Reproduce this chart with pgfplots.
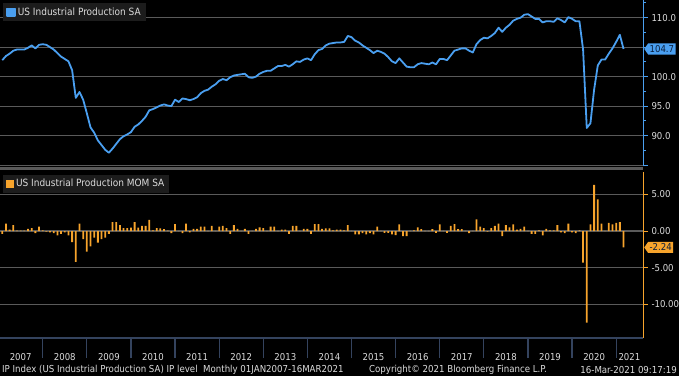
\documentclass[border=0pt]{standalone}
\usepackage{fontspec}
\setmainfont{DejaVu Sans Condensed}
\usepackage{pgfplots}
\usepackage{pgfplotstable}
\pgfplotsset{compat=1.18}
\usetikzlibrary{shapes.symbols}
\definecolor{ipblue}{HTML}{4A9FF0}
\definecolor{iporange}{HTML}{F7A42C}
\definecolor{gridgray}{HTML}{5A5A5A}
\definecolor{txt}{HTML}{DCDCDC}
\definecolor{legbg}{HTML}{1C1C1C}
\definecolor{tickblue}{HTML}{34435E}
\definecolor{darktxt}{HTML}{0A1E3C}

% t = months since 1 Jan 2007, plotted at month end
\pgfplotstableread{
t v
1 102.8
2 103.5
3 103.9
4 104.4
5 104.6
6 104.6
7 104.6
8 104.9
9 105.3
10 104.8
11 105.4
12 105.5
13 105.4
14 105.0
15 104.6
16 104.0
17 103.4
18 103.0
19 102.6
20 101.1
21 96.4
22 97.4
23 96.1
24 93.8
25 91.4
26 90.5
27 89.2
28 88.4
29 87.6
30 87.1
31 87.8
32 88.6
33 89.4
34 89.9
35 90.2
36 90.6
37 91.5
38 91.9
39 92.5
40 93.2
41 94.3
42 94.5
43 94.8
44 95.1
45 95.3
46 95.1
47 95.0
48 96.1
49 95.7
50 96.3
51 96.2
52 96.0
53 96.2
54 96.5
55 97.2
56 97.6
57 97.8
58 98.3
59 98.7
60 99.3
61 99.6
62 99.4
63 99.9
64 100.2
65 100.3
66 100.4
67 100.5
68 99.9
69 99.8
70 100.0
71 100.5
72 100.8
73 101.0
74 101.0
75 101.4
76 101.8
77 101.8
78 102.0
79 101.7
80 102.1
81 102.6
82 102.5
83 102.9
84 103.1
85 102.8
86 103.8
87 104.5
88 104.7
89 105.3
90 105.6
91 105.7
92 105.8
93 105.8
94 105.9
95 106.9
96 106.7
97 106.1
98 105.8
99 105.3
100 104.9
101 104.5
102 104.0
103 104.4
104 104.2
105 103.9
106 103.3
107 102.6
108 102.3
109 103.1
110 102.4
111 101.7
112 101.6
113 101.6
114 102.1
115 102.3
116 102.2
117 102.1
118 102.4
119 102.1
120 103.0
121 103.0
122 102.8
123 103.6
124 104.4
125 104.6
126 104.8
127 104.8
128 104.4
129 104.1
130 105.5
131 106.2
132 106.6
133 106.5
134 106.9
135 107.4
136 108.3
137 107.6
138 108.3
139 108.8
140 109.5
141 109.8
142 110.0
143 110.5
144 110.6
145 110.2
146 109.8
147 109.8
148 109.2
149 109.4
150 109.4
151 109.3
152 109.9
153 109.6
154 109.2
155 110.1
156 109.8
157 109.4
158 109.4
159 104.6
160 91.3
161 92.1
162 97.8
163 101.9
164 102.9
165 102.9
166 103.9
167 104.8
168 105.9
169 107.1
170 104.7
}\ipindex

\pgfplotstableread{
t v
1 -0.4
2 1.0
3 0.2
4 0.8
5 0.05
6 0.05
7 0.05
8 0.3
9 0.4
10 -0.3
11 0.6
12 0.1
13 -0.1
14 -0.2
15 -0.3
16 -0.6
17 -0.4
18 -0.2
19 -0.6
20 -1.5
21 -4.2
22 1.0
23 -1.1
24 -2.8
25 -2.1
26 -0.9
27 -1.6
28 -1.1
29 -0.9
30 -0.4
31 1.2
32 1.2
33 0.8
34 0.4
35 0.4
36 0.45
37 1.2
38 0.45
39 0.7
40 0.7
41 1.5
42 0.1
43 0.4
44 0.35
45 0.25
46 0.05
47 -0.3
48 0.95
49 0.02
50 -0.3
51 1.0
52 -0.2
53 0.3
54 0.3
55 0.6
56 0.6
57 0.03
58 0.7
59 0.03
60 0.6
61 0.7
62 0.4
63 -0.4
64 0.8
65 0.3
66 0.03
67 0.3
68 -0.4
69 0.03
70 0.3
71 0.5
72 0.4
73 0.03
74 0.6
75 0.6
76 0.03
77 0.2
78 0.2
79 -0.4
80 0.7
81 0.7
82 0.03
83 0.3
84 0.3
85 -0.4
86 0.95
87 0.95
88 0.3
89 0.35
90 0.35
91 0.1
92 0.2
93 0.2
94 0.1
95 0.8
96 0.02
97 -0.45
98 -0.45
99 -0.3
100 -0.45
101 -0.3
102 -0.45
103 0.6
104 0.02
105 -0.25
106 -0.25
107 -0.45
108 -0.55
109 0.9
110 -0.7
111 -0.7
112 0.02
113 0.1
114 0.5
115 0.25
116 0.02
117 0.02
118 0.25
119 -0.25
120 0.9
121 0.02
122 -0.25
123 0.7
124 0.95
125 0.25
126 0.25
127 0.02
128 -0.3
129 0.02
130 1.6
131 0.6
132 0.4
133 -0.1
134 0.4
135 0.7
136 1.0
137 -0.7
138 0.8
139 0.5
140 0.9
141 0.2
142 0.3
143 0.6
144 0.02
145 -0.4
146 -0.4
147 0.1
148 -0.6
149 0.3
150 0.1
151 0.1
152 0.8
153 -0.2
154 -0.3
155 1.0
156 -0.2
157 -0.3
158 0.1
159 -4.3
160 -12.5
161 0.9
162 6.3
163 4.3
164 1.0
165 0.02
166 1.1
167 0.9
168 1.1
169 1.2
170 -2.24
}\ipmom

\begin{document}
\begin{tikzpicture}[font=\fontsize{9.5}{11}\selectfont]
\useasboundingbox (0,0) rectangle (679pt,376pt);
\fill[black] (0,0) rectangle (679pt,376pt);
\draw[line width=3pt, color=gray!70!black] (0pt,207.5pt) -- (643pt,207.5pt);

% ---------- top panel ----------
\begin{axis}[
  at={(0pt,210pt)}, anchor=south west, scale only axis,
  width=643pt, height=166pt,
  xmin=0.38, xmax=175.3, ymin=84.85, ymax=113.0,
  axis x line=none, axis y line*=right,
  y axis line style={ipblue, line width=0.9pt},
  ytick={85,90,95,100,105,110},
  yticklabels={,90.0,95.0,100.0,,110.0},
  minor ytick={87.5,92.5,97.5,102.5,107.5,112.5},
  tick align=outside, major tick length=5pt, minor tick length=3pt,
  tick style={ipblue, line width=0.9pt},
  ymajorgrids, grid style={gridgray, line width=1.2pt},
  yticklabel style={text=txt, font=\fontsize{9.5}{11}\selectfont},
  clip mode=individual,
  legend style={at={(axis description cs:0.005,0.982)}, anchor=north west,
    fill=legbg, draw=none, text=txt, inner xsep=3pt, inner ysep=2.5pt,
    font=\fontsize{10}{12}\selectfont},
  legend image code/.code={\fill[ipblue] (0pt,-3.8pt) rectangle (7.6pt,3.8pt);},
]
\addplot[ipblue, line width=1.8pt, line join=round] table[x=t, y=v] {\ipindex};
\addlegendentry{US Industrial Production SA}
\node[signal, signal to=west, signal pointer angle=110, fill=ipblue,
  text=darktxt, anchor=west, inner xsep=1.5pt, inner ysep=2pt,
  font=\fontsize{9.5}{11}\selectfont, xshift=1pt]
  at (axis cs:175.3,104.7) {104.7};
\end{axis}

% ---------- bottom panel ----------
\begin{axis}[
  at={(0pt,38pt)}, anchor=south west, scale only axis,
  width=643pt, height=166pt,
  xmin=0.38, xmax=175.3, ymin=-14.58, ymax=8.04,
  axis x line*=bottom, axis y line*=right,
  x axis line style={tickblue, line width=1.2pt},
  y axis line style={iporange, line width=0.9pt},
  xtick={12,24,36,48,60,72,84,96,108,120,132,144,156,168},
  xticklabels={2007,2008,2009,2010,2011,2012,2013,2014,2015,2016,2017,2018,2019,2020},
  xticklabel style={xshift=-22.05pt, yshift=8pt, text=txt, font=\fontsize{9.5}{11}\selectfont},
  extra x ticks={171.6},
  extra x tick labels={2021},
  extra x tick style={major tick length=0pt, xticklabel style={xshift=22.05pt, yshift=-20pt}},
  tick align=outside, major tick length=20pt, minor tick length=3pt,
  tick style={tickblue, line width=1.2pt},
  ytick=\empty,
  extra y ticks={-10,-5,0,5},
  extra y tick labels={-10.00,-5.00,0.00,5.00},
  extra y tick style={major tick length=5pt, tick style={iporange, line width=0.9pt},
    grid=major, yticklabel style={text=txt, font=\fontsize{9.5}{11}\selectfont}},
  minor ytick={-12.5,-7.5,-2.5,2.5,7.5},
  minor tick style={iporange, line width=0.9pt},
  grid style={gridgray, line width=1.2pt},
  clip mode=individual,
  legend style={at={(axis description cs:0.005,0.985)}, anchor=north west,
    fill=legbg, draw=none, text=txt, inner xsep=3pt, inner ysep=2.5pt,
    font=\fontsize{10}{12}\selectfont},
]
\addplot[ybar, bar width=1.8pt, fill=iporange, draw=none,
  legend image code/.code={\fill[iporange] (0pt,-3.8pt) rectangle (7.6pt,3.8pt);}]
  table[x=t, y=v] {\ipmom};
\addlegendentry{US Industrial Production MOM SA}
\node[signal, signal to=west, signal pointer angle=110, fill=iporange,
  text=darktxt, anchor=west, inner xsep=1.5pt, inner ysep=2pt,
  font=\fontsize{9.5}{11}\selectfont, xshift=1pt]
  at (axis cs:175.3,-2.24) {-2.24};
\end{axis}

% ---------- footer ----------
\node[anchor=west, text=txt, font=\fontsize{9.6}{11}\selectfont, inner sep=0pt]
  at (2pt,6pt) {IP Index (US Industrial Production SA) IP level\ \ Monthly 01JAN2007-16MAR2021};
\node[anchor=center, text=txt, font=\fontsize{9.6}{11}\selectfont, inner sep=0pt]
  at (458pt,6pt) {Copyright\textcopyright{} 2021 Bloomberg Finance L.P.};
\node[anchor=east, text=txt, font=\fontsize{9.6}{11}\selectfont, inner sep=0pt]
  at (677pt,6pt) {16-Mar-2021 09:17:19};
\end{tikzpicture}
\end{document}
